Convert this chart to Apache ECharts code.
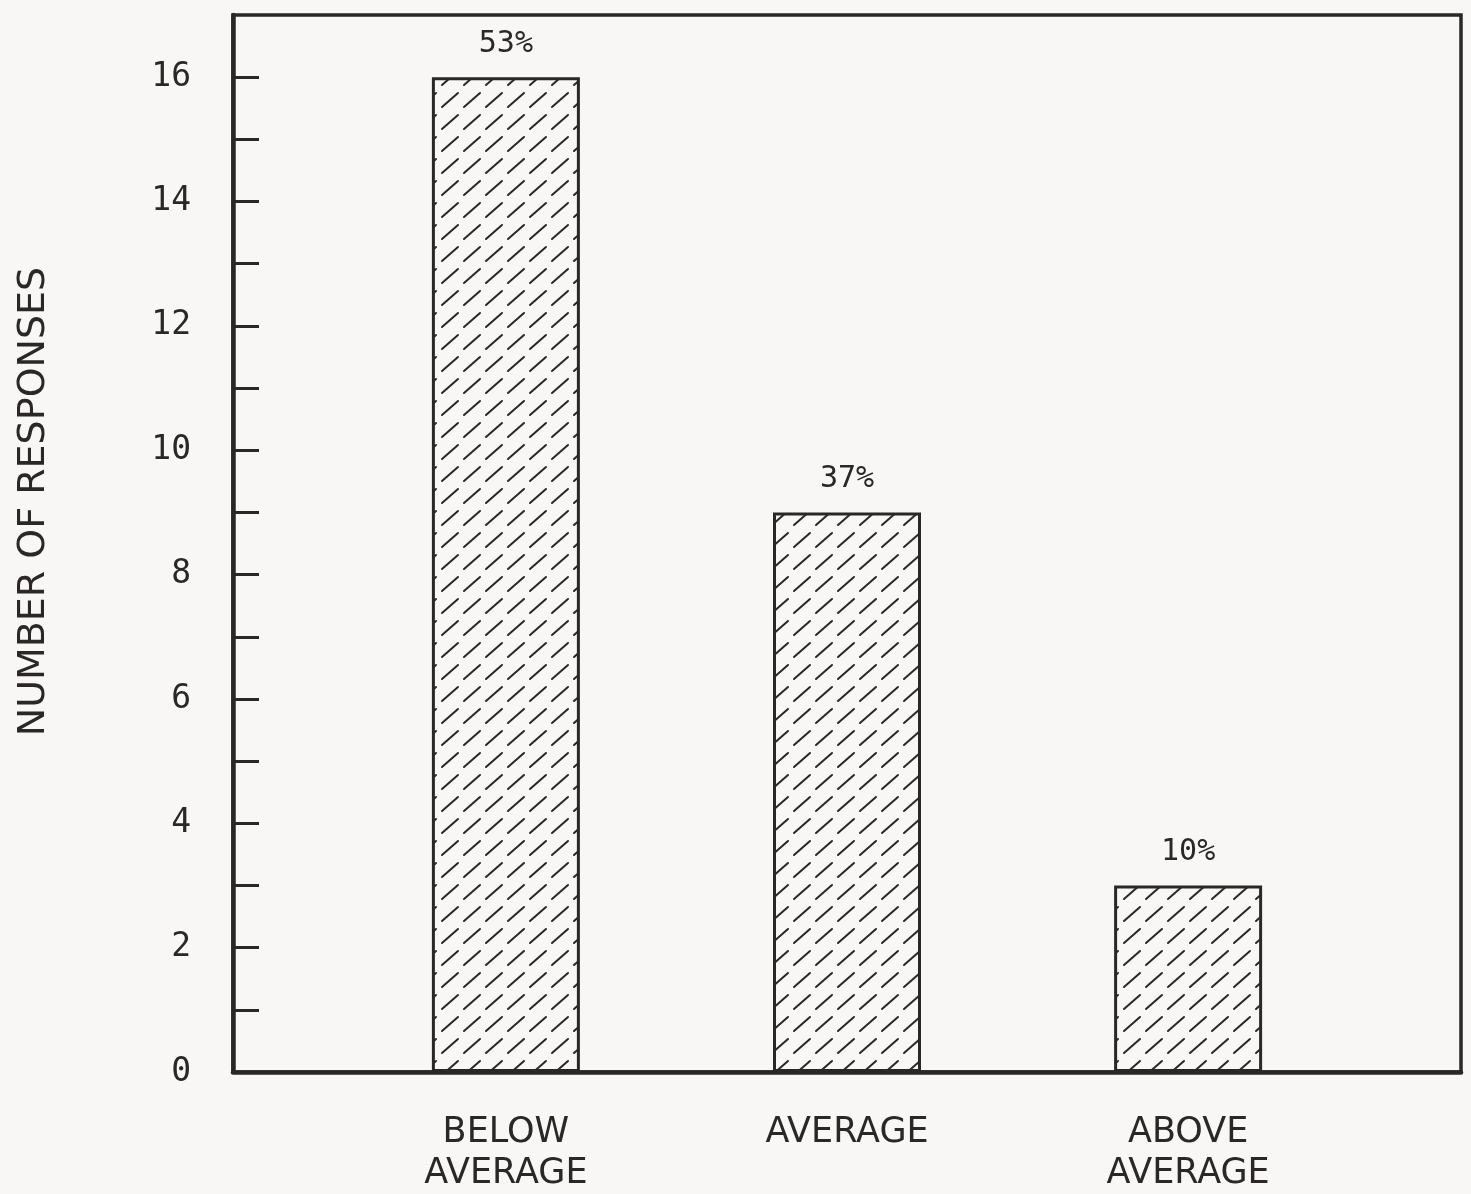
<!DOCTYPE html>
<html>
<head>
<meta charset="utf-8">
<script src="https://cdn.jsdelivr.net/npm/echarts@6/dist/echarts.min.js"></script>
<style>
  html, body { margin: 0; padding: 0; background: #f8f7f5; }
  #chart { width: 1471px; height: 1194px; }
</style>
</head>
<body>
<div id="chart"></div>
<script>
// Survey responses by rating
const categories = ['BELOW\nAVERAGE', 'AVERAGE', 'ABOVE\nAVERAGE'];
const categoryPositions = [0.8, 1.8, 2.8];
const responses = [16, 9, 3];
const percentLabels = ['53%', '37%', '10%'];
const yTickLabels = [0, 2, 4, 6, 8, 10, 12, 14, 16];
const yMinorTicks = [1, 2, 3, 4, 5, 6, 7, 8, 9, 10, 11, 12, 13, 14, 15, 16];

const ink = '#2b2628';

// Diagonal dashed hatching used as bar fill
function hatchPattern() {
  const c = document.createElement('canvas');
  c.width = 22; c.height = 22;
  const g = c.getContext('2d');
  g.fillStyle = '#f8f7f5';
  g.fillRect(0, 0, 22, 22);
  g.strokeStyle = ink;
  g.lineWidth = 2;
  g.lineCap = 'round';
  g.beginPath();
  g.moveTo(2, 19);
  g.lineTo(18, 5);
  g.stroke();
  return c;
}

const chart = echarts.init(document.getElementById('chart'));
chart.setOption({
  backgroundColor: '#f8f7f5',
  animation: false,
  grid: {
    left: 233, right: 10, top: 15, bottom: 112,
    show: true, borderColor: ink, borderWidth: 3.5, backgroundColor: 'transparent'
  },
  xAxis: {
    type: 'value', min: 0, max: 3.6,
    splitLine: { show: false },
    axisLine: { show: true, lineStyle: { color: ink, width: 4.5 } },
    axisTick: { show: false },
    axisLabel: {
      customValues: categoryPositions,
      formatter: function (v) {
        const i = categoryPositions.findIndex(p => Math.abs(p - v) < 1e-6);
        return i >= 0 ? categories[i] : '';
      },
      margin: 40,
      color: ink,
      fontFamily: 'DejaVu Sans',
      fontSize: 35,
      lineHeight: 41
    }
  },
  yAxis: {
    type: 'value', min: 0, max: 17, interval: 1,
    name: 'NUMBER OF RESPONSES',
    nameLocation: 'middle',
    nameGap: 180,
    nameTextStyle: { color: ink, fontFamily: 'DejaVu Sans', fontSize: 38, padding: [0, 0, 0, 84] },
    splitLine: { show: false },
    axisLine: { show: true, lineStyle: { color: ink, width: 4.5 } },
    axisTick: {
      show: true, inside: true, length: 26,
      customValues: yMinorTicks,
      lineStyle: { color: ink, width: 3 }
    },
    axisLabel: {
      customValues: yTickLabels,
      margin: 42,
      color: ink,
      fontFamily: 'DejaVu Sans Mono',
      fontSize: 33,
      padding: [14, 0, 0, 0]
    }
  },
  series: [{
    type: 'bar',
    barWidth: 148,
    data: responses.map((v, i) => [categoryPositions[i], v]),
    itemStyle: {
      color: { image: hatchPattern(), repeat: 'repeat' },
      borderColor: ink,
      borderWidth: 3
    },
    label: {
      show: true,
      position: 'top',
      distance: 18,
      color: ink,
      fontFamily: 'DejaVu Sans Mono',
      fontSize: 30,
      formatter: p => percentLabels[p.dataIndex]
    }
  }]
});
</script>
</body>
</html>
